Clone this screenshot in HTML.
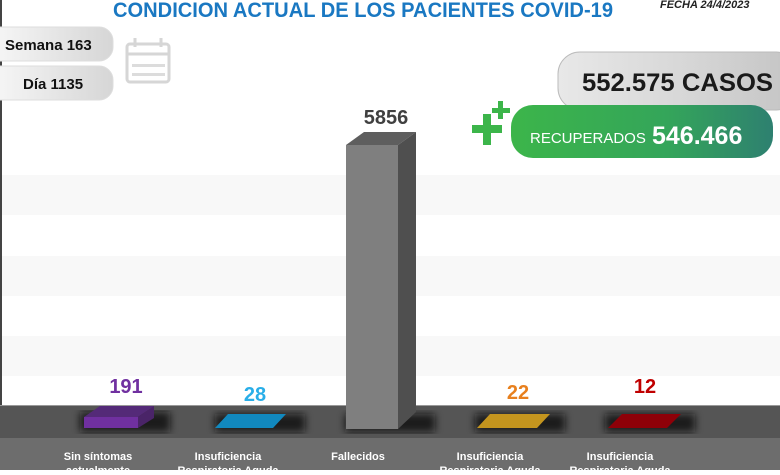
<!DOCTYPE html>
<html><head><meta charset="utf-8"><style>
body{margin:0;width:780px;height:470px;overflow:hidden;background:#fff;font-family:"Liberation Sans",sans-serif}
</style></head><body>
<svg width="780" height="470" viewBox="0 0 780 470" xmlns="http://www.w3.org/2000/svg" font-family="Liberation Sans, sans-serif">
<defs>
<linearGradient id="gc" x1="0" y1="0" x2="1" y2="0"><stop offset="0" stop-color="#e8e8e8"/><stop offset="0.5" stop-color="#d8d8d8"/><stop offset="1" stop-color="#c4c4c4"/></linearGradient>
<linearGradient id="gr" x1="0" y1="0" x2="1" y2="0"><stop offset="0" stop-color="#3cb54a"/><stop offset="0.6" stop-color="#34a55a"/><stop offset="1" stop-color="#2e8070"/></linearGradient>
<linearGradient id="gp" x1="0" y1="0" x2="1" y2="0"><stop offset="0" stop-color="#fafafa"/><stop offset="1" stop-color="#d6d6d6"/></linearGradient>
<filter id="bl"><feGaussianBlur stdDeviation="4"/></filter>
</defs>
<rect x="0" y="175" width="780" height="40" fill="#f8f8f8"/>
<rect x="0" y="256" width="780" height="40" fill="#f8f8f8"/>
<rect x="0" y="336" width="780" height="40" fill="#f8f8f8"/>
<rect x="0" y="0" width="2" height="406" fill="#444"/>
<rect x="0" y="405" width="780" height="34" fill="#555"/>
<rect x="0" y="405" width="780" height="1" fill="#999"/>
<rect x="0" y="438" width="780" height="32" fill="#6d6d6d"/>
<g fill="#111" filter="url(#bl)" opacity="0.8">
<rect x="80" y="412" width="90" height="20"/><rect x="215" y="414" width="90" height="18"/><rect x="345" y="414" width="90" height="18"/><rect x="475" y="414" width="90" height="18"/><rect x="605" y="414" width="90" height="18"/>
</g>
<polygon points="84,417 100,406 154,406 138,417" fill="#542a78"/>
<rect x="84" y="417" width="54" height="11" fill="#7030a0"/>
<polygon points="138,417 154,406 154,418 138,428" fill="#4a2468"/>
<polygon points="215,428 228,414 286,414 273,428" fill="#1188be"/>
<polygon points="477,428 490,414 550,414 537,428" fill="#c4951e"/>
<polygon points="608,428 622,414 681,414 667,428" fill="#8e0008"/>
<rect x="346" y="145" width="52" height="284" fill="#7f7f7f"/>
<polygon points="346,145 364,132 416,132 398,145" fill="#5e5e5e"/>
<polygon points="398,145 416,132 416,412 398,429" fill="#4f4f4f"/>
<g font-weight="bold" font-size="20" text-anchor="middle">
<text x="386" y="124" fill="#404040">5856</text>
<text x="126" y="393" fill="#7030a0">191</text>
<text x="255" y="401" fill="#29aee8">28</text>
<text x="518" y="399" fill="#e8801e">22</text>
<text x="645" y="393" fill="#c00000">12</text>
</g>
<g font-size="11" fill="#fff" text-anchor="middle" font-weight="bold">
<text x="98" y="460">Sin síntomas</text><text x="98" y="474">actualmente</text>
<text x="228" y="460">Insuficiencia</text><text x="228" y="474">Respiratoria Aguda</text>
<text x="358" y="460">Fallecidos</text>
<text x="490" y="460">Insuficiencia</text><text x="490" y="474">Respiratoria Aguda</text>
<text x="620" y="460">Insuficiencia</text><text x="620" y="474">Respiratoria Aguda</text>
</g>
<text x="113" y="17" font-size="21" font-weight="bold" fill="#1a78c2" textLength="500" lengthAdjust="spacingAndGlyphs">CONDICION ACTUAL DE LOS PACIENTES COVID-19</text>
<text x="660" y="8" font-size="11" font-weight="bold" font-style="italic" fill="#222">FECHA 24/4/2023</text>
<rect x="-20" y="27" width="133" height="34" rx="14" fill="url(#gp)" stroke="#ddd"/>
<text x="5" y="50" font-size="15" font-weight="bold" fill="#111">Semana 163</text>
<rect x="-20" y="66" width="133" height="34" rx="14" fill="url(#gp)" stroke="#ddd"/>
<text x="23" y="89" font-size="15" font-weight="bold" fill="#111">Día 1135</text>
<g fill="none" stroke="#d6d6d6" stroke-width="3">
<rect x="127" y="44" width="42" height="38" rx="3"/><line x1="127" y1="54" x2="169" y2="54"/>
<line x1="135" y1="38" x2="135" y2="47"/><line x1="161" y1="38" x2="161" y2="47"/>
</g>
<g fill="#dcdcdc"><rect x="132" y="64" width="33" height="3"/><rect x="132" y="73" width="33" height="3"/></g>
<rect x="558" y="52" width="240" height="58" rx="22" fill="url(#gc)" stroke="#bbb"/>
<text x="582" y="91" font-size="25" font-weight="bold" fill="#1a1a1a" textLength="191" lengthAdjust="spacingAndGlyphs">552.575 CASOS</text>
<rect x="511" y="105" width="262" height="53" rx="22" fill="url(#gr)"/>
<text x="530" y="143" font-size="15" fill="#fff">RECUPERADOS</text>
<text x="652" y="144" font-size="25" font-weight="bold" fill="#fff">546.466</text>
<g fill="#3cb54a">
<rect x="472" y="125" width="30" height="8"/><rect x="483" y="114" width="8" height="31"/>
<rect x="492" y="108" width="18" height="5"/><rect x="498" y="101" width="5" height="18"/>
</g>
</svg>
</body></html>
